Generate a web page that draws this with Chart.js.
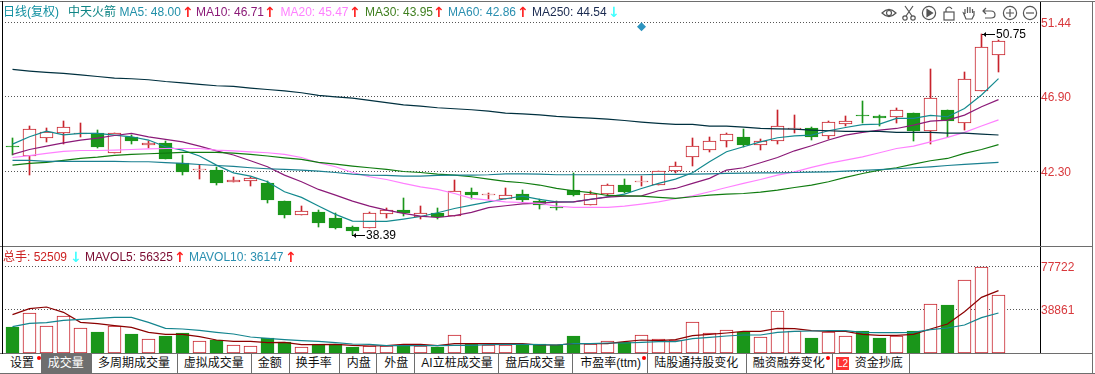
<!DOCTYPE html>
<html>
<head>
<meta charset="utf-8">
<style>
html, body { margin: 0; padding: 0; background: #fff; overflow: hidden; }
body { width: 1095px; height: 374px; position: relative; font: 12px "Liberation Sans", "Noto Sans CJK SC", sans-serif; }
canvas { position: absolute; left: 0; }
#price { top: 0; }
#volume { top: 246px; }
.rule { position: absolute; background: #6e6e6e; }
.lg { position: absolute; white-space: nowrap; line-height: 14px; }
.arrow { font: bold 14px "DejaVu Sans", sans-serif; line-height: 14px; }
.tab { position: absolute; top: 354px; height: 19px; line-height: 19px; box-sizing: border-box; border-right: 1px solid #6e6e6e; color: #111; white-space: nowrap; }
.tab.on { background: #6e6e6e; color: #fff; }
.dot { position: absolute; top: 2px; width: 4px; height: 4px; border-radius: 2px; background: #f00; }
.l2 { position: absolute; left: 3px; top: 3px; width: 13px; height: 13px; line-height: 13px; background: #f33; color: #fff; font-size: 10px; text-align: center; }
svg { position: absolute; top: 5px; width: 16px; height: 16px; fill: none; stroke: #555; stroke-width: 1.2; }
</style>
</head>
<body>
<canvas id="price" width="1092" height="246"></canvas>
<canvas id="volume" width="1092" height="107"></canvas>
<div id="overlay"></div>
<script src="https://cdn.jsdelivr.net/npm/chart.js@4/dist/chart.umd.min.js"></script>
<script>
// daily candles
const open = [
  43.84, 43.25, 44.33, 44.67, 44.64, 44.64, 43.41, 44.39, 43.94, 44.02,
  42.80, 42.43, 42.39, 41.65, 41.73, 41.59, 40.49, 39.61, 39.81, 39.44,
  38.89, 38.81, 39.71, 39.91, 39.50, 39.75, 39.58, 41.04, 40.90, 40.61,
  40.91, 40.49, 40.14, 41.14, 40.26, 40.93, 41.47, 41.73, 41.45, 42.31,
  43.17, 43.63, 44.15, 44.41, 43.90, 44.18, 44.88, 44.96, 44.45, 45.23,
  45.76, 45.70, 45.62, 45.86, 44.80, 46.07, 45.25, 47.21, 49.42];
const close = [
  43.83, 44.88, 44.74, 45.01, 44.64, 43.82, 44.64, 44.18, 44.04, 43.08,
  42.28, 42.43, 41.61, 41.75, 41.88, 40.55, 39.63, 39.85, 39.15, 38.83,
  38.66, 39.73, 39.91, 39.73, 39.73, 39.50, 41.10, 40.85, 40.90, 40.83,
  40.55, 40.24, 40.08, 40.87, 40.90, 41.45, 41.04, 41.73, 42.31, 42.61,
  43.84, 44.15, 44.59, 43.92, 44.15, 45.07, 44.94, 44.43, 45.31, 45.37,
  45.75, 45.59, 46.05, 44.80, 46.78, 45.39, 47.95, 49.91, 50.28];
const high = [
  44.33, 45.09, 44.94, 45.39, 45.25, 44.84, 44.64, 44.53, 44.17, 44.17,
  43.31, 42.71, 42.59, 41.98, 41.98, 41.71, 40.49, 40.18, 39.93, 39.73,
  38.95, 39.79, 40.04, 40.67, 40.18, 40.06, 41.77, 41.28, 40.98, 41.28,
  41.16, 40.61, 40.49, 42.20, 41.10, 41.53, 41.83, 42.02, 42.31, 42.88,
  44.35, 44.41, 44.64, 44.90, 44.29, 46.07, 45.76, 45.02, 45.39, 45.68,
  46.62, 45.76, 46.17, 45.86, 48.58, 46.07, 48.40, 50.75, 50.36];
const low = [
  43.31, 42.08, 44.10, 43.98, 44.43, 43.74, 43.41, 43.98, 43.74, 43.08,
  42.08, 41.83, 41.47, 41.65, 41.41, 40.34, 39.44, 39.61, 38.91, 38.77,
  38.39, 38.81, 39.44, 39.56, 39.40, 39.38, 39.58, 40.61, 40.61, 40.59,
  40.42, 39.99, 39.93, 40.79, 40.26, 40.79, 40.96, 41.42, 41.45, 42.22,
  42.65, 43.49, 43.80, 43.82, 43.61, 43.98, 44.67, 44.23, 44.29, 45.09,
  45.29, 45.09, 45.29, 44.18, 43.98, 44.43, 44.84, 47.21, 48.42];

const ma5 = [
  43.98, 44.43, 44.78, 44.55, 44.64, 44.64, 44.53, 44.43, 44.23, 43.82,
  43.61, 43.25, 42.69, 42.22, 42.02, 41.67, 41.06, 40.71, 40.18, 39.67,
  39.26, 39.24, 39.24, 39.38, 39.54, 39.77, 40.03, 40.24, 40.44, 40.63,
  40.79, 40.59, 40.44, 40.44, 40.59, 40.75, 40.91, 41.26, 41.57, 41.83,
  42.22, 42.90, 43.51, 43.82, 44.12, 44.37, 44.49, 44.53, 44.80, 45.00,
  45.17, 45.21, 45.56, 45.56, 45.74, 45.66, 46.17, 46.99, 48.00];
const ma10 = [
  43.35, 43.65, 43.86, 44.06, 44.23, 44.35, 44.51, 44.64, 44.43, 44.27,
  44.12, 43.86, 43.57, 43.31, 42.96, 42.59, 42.08, 41.67, 41.20, 40.85,
  40.48, 40.18, 39.93, 39.73, 39.56, 39.48, 39.59, 39.79, 40.08, 40.20,
  40.32, 40.36, 40.42, 40.44, 40.59, 40.73, 40.79, 40.81, 41.12, 41.26,
  41.57, 41.88, 42.39, 42.53, 42.84, 43.16, 43.57, 43.88, 44.23, 44.53,
  44.70, 44.84, 44.94, 45.15, 45.39, 45.45, 45.76, 46.27, 46.71];
const ma20 = [
  43.16, 43.27, 43.41, 43.53, 43.59, 43.59, 43.61, 43.65, 43.69, 43.71,
  43.71, 43.71, 43.61, 43.57, 43.51, 43.45, 43.35, 43.16, 42.84, 42.59,
  42.24, 41.98, 41.81, 41.57, 41.36, 41.20, 40.95, 40.65, 40.55, 40.44,
  40.40, 40.34, 40.18, 40.10, 40.10, 40.10, 40.18, 40.30, 40.44, 40.63,
  40.81, 41.06, 41.32, 41.57, 41.81, 42.08, 42.28, 42.55, 42.80, 43.00,
  43.20, 43.45, 43.71, 43.86, 44.12, 44.39, 44.70, 45.09, 45.47];
const ma30 = [
  42.69, 42.80, 42.86, 42.98, 43.10, 43.18, 43.29, 43.35, 43.39, 43.43,
  43.47, 43.47, 43.47, 43.43, 43.35, 43.25, 43.14, 43.04, 42.86, 42.75,
  42.63, 42.53, 42.43, 42.30, 42.24, 42.14, 42.08, 41.98, 41.83, 41.69,
  41.61, 41.47, 41.26, 41.12, 41.00, 40.83, 40.81, 40.79, 40.71, 40.65,
  40.75, 40.85, 40.91, 40.95, 41.04, 41.16, 41.32, 41.47, 41.67, 41.94,
  42.18, 42.39, 42.53, 42.75, 42.96, 43.10, 43.41, 43.65, 43.95];
const ma60 = [
  42.98, 42.98, 42.92, 42.92, 42.92, 42.92, 42.92, 42.90, 42.90, 42.84,
  42.80, 42.73, 42.67, 42.61, 42.53, 42.47, 42.43, 42.39, 42.32, 42.24,
  42.14, 42.08, 42.06, 42.02, 42.02, 42.06, 42.08, 42.08, 42.10, 42.16,
  42.16, 42.14, 42.10, 42.10, 42.10, 42.10, 42.10, 42.10, 42.12, 42.12,
  42.14, 42.16, 42.18, 42.20, 42.22, 42.22, 42.24, 42.26, 42.28, 42.32,
  42.37, 42.41, 42.47, 42.53, 42.59, 42.67, 42.74, 42.80, 42.86];
const ma250 = [
  48.56, 48.46, 48.38, 48.32, 48.23, 48.13, 48.03, 47.99, 47.93, 47.82,
  47.74, 47.64, 47.56, 47.52, 47.42, 47.33, 47.25, 47.13, 46.97, 46.88,
  46.80, 46.66, 46.52, 46.39, 46.31, 46.21, 46.15, 46.09, 46.00, 45.88,
  45.84, 45.78, 45.68, 45.62, 45.58, 45.51, 45.43, 45.33, 45.25, 45.19,
  45.19, 45.09, 45.09, 45.02, 44.94, 44.92, 44.90, 44.84, 44.80, 44.76,
  44.76, 44.76, 44.70, 44.70, 44.70, 44.66, 44.66, 44.59, 44.54];

const volume = [
  23490, 36450, 24100, 33130, 22290, 18980, 24100, 17170, 12350, 15360,
  18070, 10540, 11750, 6930, 6020, 13250, 9640, 5120, 7830, 7830,
  5420, 6020, 6020, 7230, 6330, 5420, 15960, 7830, 6930, 6930,
  7830, 7830, 7230, 15360, 8430, 11140, 9640, 15960, 12950, 12050,
  27710, 18370, 20480, 18980, 14160, 37650, 19580, 13550, 18670, 15060,
  19880, 13550, 15660, 19880, 43980, 43370, 65660, 77722, 52509];
const mavol5 = [
  34640, 40060, 41570, 36750, 27710, 26510, 24700, 23190, 18670, 16870,
  16870, 14760, 11750, 10540, 10540, 9340, 9640, 7530, 7530, 7830,
  6930, 6330, 6630, 7830, 7830, 6630, 8430, 8430, 8430, 8430,
  8430, 7230, 7230, 8430, 8430, 8430, 10240, 11750, 11140, 12050,
  15660, 16870, 18070, 19580, 19580, 22290, 21990, 20180, 19580, 19580,
  16870, 15960, 15960, 16870, 21690, 26200, 37350, 50300, 56325];
const mavol10 = [
  23790, 26810, 27410, 29520, 30420, 31320, 32230, 32230, 27710, 22290,
  21690, 20480, 18670, 17170, 14460, 13250, 12050, 11140, 10540, 9340,
  8130, 7830, 6630, 6630, 6630, 6630, 6930, 6930, 7530, 7830,
  7830, 7530, 7230, 8430, 8430, 9040, 9040, 9640, 10240, 10240,
  12950, 14160, 15360, 16270, 16270, 18670, 19580, 19880, 20180, 20180,
  18670, 18370, 18370, 18670, 21080, 22590, 25300, 31930, 36147];

const priceTicks = [42.30, 46.90, 51.44];
const volumeTicks = [38861, 77722];
const signalIndex = 37;
const signalValue = 51.18;

const legendTop = [
  ['日线(复权)', 3, '#0f8fa0'], ['中天火箭', 68, '#0f8585'],
  ['MA5: 48.00', 119.5, '#1f8fa8'], ['↑', 182, '#ff2020'],
  ['MA10: 46.71', 196, '#8b1a78'], ['↑', 264, '#ff2020'],
  ['MA20: 45.47', 280.5, '#ff80ff'], ['↑', 349, '#ff2020'],
  ['MA30: 43.95', 365, '#3f7f1f'], ['↑', 433, '#ff2020'],
  ['MA60: 42.86', 448, '#2a8fb0'], ['↑', 517, '#ff2020'],
  ['MA250: 44.54', 532, '#1a2a50'], ['↓', 608, '#40ffff']];
const legendVol = [
  ['总手: 52509', 3, '#cc2222'], ['↓', 70, '#40ffff'],
  ['MAVOL5: 56325', 85, '#7a0a30'], ['↑', 174, '#ff2020'],
  ['MAVOL10: 36147', 189, '#2a8fb0'], ['↑', 285, '#ff2020']];
const tabs = [
  ['设置', 2, 41.7, 8, 34.5], ['成交量', 41.7, 92, 6], ['多周期成交量', 92, 177.7, 6],
  ['虚拟成交量', 177.7, 251.7, 6], ['金额', 251.7, 289.7, 6], ['换手率', 289.7, 339.7, 6],
  ['内盘', 339.7, 377.3, 7], ['外盘', 377.3, 415.3, 7], ['AI立桩成交量', 415.3, 499.3, 6],
  ['盘后成交量', 499.3, 573.3, 6], ['市盈率(ttm)', 573.3, 648.3, 7, 68.5], ['陆股通持股变化', 648.3, 746.7, 6],
  ['融资融券变化', 746.7, 832.7, 6, 79], ['资金抄底', 832.7, 910.3, 22]];

const RED = '#c8232c';
const GREEN = '#1a961a';
const isUp = i => close[i] >= open[i];
const barColor = open.map((_, i) => isUp(i) ? RED : GREEN);
const bodyFill = open.map((_, i) => isUp(i) ? '#fff' : GREEN);
const xy = values => values.map((v, i) => ({ x: i, y: v }));
const line = (values, color) => ({ type: 'line', data: xy(values), borderColor: color, borderWidth: 1.2, pointRadius: 0, tension: 0, order: 1 });

// snap bar edges to whole pixels so the outlines stay sharp, flat candles keep 1px
const snapBars = {
    id: 'snapBars',
    afterDatasetsUpdate(chart) {
        chart.getSortedVisibleDatasetMetas().forEach(meta => {
            if (meta.type !== 'bar') return;
            meta.data.forEach(el => {
                el.y = Math.round(el.y);
                el.base = Math.round(el.base);
                if (el.y === el.base) el.base += 1;
            });
        });
    }
};

// 50.75 and 38.39 callouts at the extreme high and low
const extremes = {
    id: 'extremes',
    afterDatasetsDraw(chart) {
        const { ctx, scales: { x, y } } = chart;
        const hi = Math.max(...high), lo = Math.min(...low);
        [[high.indexOf(hi), hi], [low.indexOf(lo), lo]].forEach(([i, v]) => {
            const px = Math.round(x.getPixelForValue(i)), py = Math.round(y.getPixelForValue(v)) + 0.5;
            ctx.save();
            ctx.strokeStyle = '#000';
            ctx.fillStyle = '#000';
            ctx.lineWidth = 1;
            ctx.beginPath(); ctx.moveTo(px, py); ctx.lineTo(px + 13, py); ctx.stroke();
            ctx.beginPath(); ctx.moveTo(px + 1, py); ctx.lineTo(px + 4, py - 2.5); ctx.lineTo(px + 4, py + 2.5); ctx.fill();
            ctx.font = '12px "Liberation Sans", sans-serif';
            ctx.textBaseline = 'middle';
            ctx.textAlign = 'left';
            ctx.fillText(v.toFixed(2), px + 14, py);
            ctx.restore();
        });
    }
};

function sharedX() {
    // one candle every 17px, first centre at x = 12.5
    return { type: 'linear', display: false, offset: false, min: -10.5 / 17, max: -10.5 / 17 + 1038 / 17 };
}
function sharedY(min, max, ticks, fmt) {
    return {
        position: 'right', min, max,
        afterBuildTicks: s => { s.ticks = ticks.map(v => ({ value: v })); },
        afterFit: s => { s.width = 52; s.paddingTop = 0; s.paddingBottom = 0; },
        grid: { color: '#555', drawTicks: false },
        border: { color: '#000', dash: [1, 2] },
        ticks: { color: '#d8383c', padding: 1, labelOffset: 1, font: { family: '"Liberation Sans", sans-serif', size: 12 }, callback: fmt, autoSkip: false, maxRotation: 0 }
    };
}
const baseOptions = {
    responsive: false, animation: false, events: [], devicePixelRatio: 1,
    plugins: { legend: { display: false }, tooltip: { enabled: false } }
};

new Chart(document.getElementById('price'), {
    type: 'bar',
    data: {
        datasets: [
            { data: open.map((_, i) => ({ x: i, y: [low[i], high[i]] })), backgroundColor: barColor, barThickness: 1, grouped: false, order: 10 },
            { data: open.map((_, i) => ({ x: i, y: [open[i], close[i]] })), backgroundColor: bodyFill, borderColor: barColor, borderWidth: 1, borderSkipped: false, barThickness: 13, grouped: false, order: 9 },
            line(ma250, '#00303f'),
            line(ma60, '#1a8090'),
            line(ma30, '#107c10'),
            line(ma20, '#ff80ff'),
            line(ma10, '#8b1a78'),
            line(ma5, '#148a8f'),
            { type: 'line', data: [{ x: signalIndex, y: signalValue }], showLine: false, pointStyle: 'rectRot', pointRadius: 4.5, pointBackgroundColor: '#2e95c0', pointBorderWidth: 0, order: 0 }
        ]
    },
    options: {
        ...baseOptions,
        layout: { autoPadding: false, padding: { left: 2, top: 1 } },
        scales: { x: sharedX(), y: sharedY(37.73, 52.76, priceTicks, v => v.toFixed(2)) }
    },
    plugins: [snapBars, extremes]
});

new Chart(document.getElementById('volume'), {
    type: 'bar',
    data: {
        datasets: [
            { data: xy(volume), backgroundColor: bodyFill, borderColor: barColor, borderWidth: 1, borderSkipped: false, barThickness: 13, grouped: false, order: 9 },
            line(mavol10, '#14858f'),
            line(mavol5, '#8b0000')
        ]
    },
    options: {
        ...baseOptions,
        layout: { autoPadding: false, padding: { left: 2, top: 1 } },
        scales: { x: sharedX(), y: sharedY(0, 95790, volumeTicks, v => String(v)) }
    },
    plugins: [snapBars]
});

// page furniture: legends, tab strip, toolbar, frame lines
const overlay = document.getElementById('overlay');
function add(cls, css, text) {
    const el = document.createElement('div');
    el.className = cls;
    el.style.cssText = css;
    if (text) el.textContent = text;
    overlay.appendChild(el);
    return el;
}
add('rule', 'left:0;top:1px;width:1095px;height:1px');
add('rule', 'left:0;top:246px;width:1092px;height:1px');
add('rule', 'left:0;top:353px;width:1092px;height:1px');
add('rule', 'left:0;top:373px;width:1095px;height:1px');
add('rule', 'left:1092px;top:1px;width:1px;height:373px');
add('', 'position:absolute;left:2px;top:1px;width:1px;height:353px;background:#000');

const legendItem = (t, x, c, top) => add('lg' + (t === '↑' || t === '↓' ? ' arrow' : ''), `left:${x}px;top:${top}px;color:${c}`, t);
legendTop.forEach(([t, x, c]) => legendItem(t, x, c, 5));
legendVol.forEach(([t, x, c]) => legendItem(t, x, c, 250));

tabs.forEach(([t, a, b, pad, dot], i) => {
    add('tab' + (i === 1 ? ' on' : ''), `left:${a}px;width:${b - a}px;padding-left:${pad}px`, t);
    if (dot) add('dot', `left:${a + dot}px;top:356px`);
    if (i === tabs.length - 1) add('l2', 'left:836px;top:357px', 'L2');
});

const icons = [
    [881, '<path d="M1 8 Q8 1 15 8 Q8 15 1 8Z"/><circle cx="8" cy="8" r="2.5"/>'],
    [901, '<path d="M4 1 L11 11 M12 1 L5 11"/><circle cx="4" cy="13" r="2.2"/><circle cx="12" cy="13" r="2.2"/>'],
    [921, '<circle cx="8" cy="8" r="6.6"/><path d="M6 4.5 L11.5 8 L6 11.5Z" fill="#555"/>'],
    [941, '<rect x="3" y="7" width="10" height="8"/><path d="M5 7 V4 Q8 0 11 4"/>'],
    [961, '<path d="M4 9 V4 M6.5 8 V2 M9 8 V2 M11.5 8 V4 M4 9 L2.5 8 L5 14 H11 L13 10 V6"/>'],
    [981, '<path d="M5 3 L2 6 L5 9 M2 6 H10 Q14 6 14 10 Q14 13 10 13 H4"/>'],
    [1002, '<circle cx="8" cy="8" r="6.6"/><path d="M4 8 H12 M8 4 V12"/>'],
    [1022, '<circle cx="8" cy="8" r="6.6"/><path d="M4 8 H12"/>']
];
icons.forEach(([x, body]) => {
    overlay.insertAdjacentHTML('beforeend', `<svg viewBox="0 0 16 16" style="left:${x}px">${body}</svg>`);
});
</script>
</body>
</html>
